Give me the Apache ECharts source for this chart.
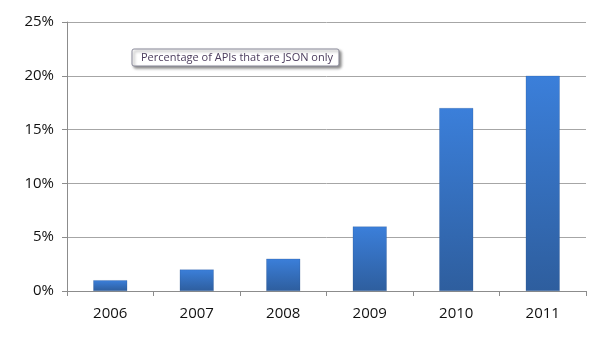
<!DOCTYPE html>
<html><head><meta charset="utf-8">
<script src="https://cdn.jsdelivr.net/npm/echarts@6/dist/echarts.min.js"></script>
<style>html,body{margin:0;padding:0;background:#fff}#c{width:604px;height:340px}</style>
</head><body><div id="c"></div>
<script>
const categories = ['2006','2007','2008','2009','2010','2011'];
const values = [1, 2, 3, 6, 17, 20];
const seriesName = 'Percentage of APIs that are JSON only';
const yTicks = [0, 5, 10, 15, 20, 25];

const chart = echarts.init(document.getElementById('c'), null, {renderer:'canvas'});
chart.setOption({
  animation:false,
  grid:{left:67,right:18,top:22,bottom:49,containLabel:false},
  legend:{
    data:[seriesName], left:132, top:49, icon:'none', itemWidth:0, itemHeight:0, itemGap:0,
    padding:[3,6,3,4], borderColor:'#8a8a9a', borderWidth:1, borderRadius:2,
    backgroundColor:'#fff', shadowColor:'rgba(0,0,0,0.45)', shadowBlur:3, shadowOffsetX:2, shadowOffsetY:2,
    textStyle:{fontFamily:'Open Sans', fontSize:11, color:'#4a3b5c'}
  },
  xAxis:{
    type:'category', data:categories,
    axisLine:{lineStyle:{color:'#8c8c8c'}},
    axisTick:{show:true, length:5, lineStyle:{color:'#8c8c8c'}},
    axisLabel:{fontFamily:'Open Sans', fontSize:15, color:'#111', margin:15}
  },
  yAxis:{
    type:'value', min:0, max:25, interval:5,
    axisLine:{show:true, lineStyle:{color:'#8c8c8c'}},
    axisTick:{show:true, length:5, lineStyle:{color:'#8c8c8c'}},
    splitLine:{lineStyle:{color:'#a6a6a6'}},
    axisLabel:{fontFamily:'Open Sans', fontSize:15, color:'#111', margin:13, formatter:v=>v+'%'}
  },
  series:[{
    name:seriesName, type:'bar', data:values, barWidth:34,
    itemStyle:{
      color:new echarts.graphic.LinearGradient(0,0,0,1,[{offset:0,color:'#3b7fda'},{offset:1,color:'#2e5e9e'}]),
      borderColor:'rgba(40,80,140,0.5)', borderWidth:0.5
    }
  }]
});
</script></body></html>
